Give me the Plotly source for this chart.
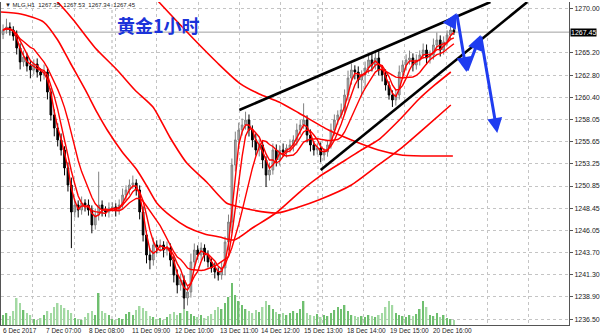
import plotly.graph_objects as go
import pandas as pd

# ---------------- data ----------------
closes = [
    1267.68, 1268.00, 1267.68, 1267.03, 1265.74, 1264.23, 1264.77, 1263.80, 1263.37, 1264.01,
    1263.15, 1262.83, 1263.15, 1260.99, 1258.51, 1257.11, 1255.82, 1254.74, 1252.80, 1250.96,
    1248.05, 1248.80, 1248.26, 1249.02, 1248.80, 1248.26, 1246.65, 1247.73, 1248.80, 1248.26,
    1248.05, 1248.48, 1248.59, 1248.26, 1248.80, 1249.88, 1250.42, 1250.96, 1251.18, 1250.42,
    1248.05, 1245.57, 1243.41, 1242.87, 1244.49, 1244.27, 1244.49, 1243.95, 1244.16, 1242.87,
    1241.25, 1240.17, 1240.71, 1238.77, 1239.42, 1242.66, 1243.95, 1243.41, 1244.16, 1243.41,
    1242.66, 1242.01, 1241.58, 1241.25, 1242.01, 1244.81, 1246.97, 1253.12, 1255.82, 1256.89,
    1257.43, 1257.97, 1256.89, 1255.82, 1254.74, 1255.28, 1253.66, 1252.04, 1252.58, 1254.74,
    1253.66, 1254.74, 1254.52, 1254.95, 1255.28, 1255.82, 1256.89, 1257.43, 1257.97, 1256.35,
    1255.28, 1254.74, 1254.95, 1254.20, 1254.52, 1255.28, 1256.89, 1257.97, 1258.51, 1259.05,
    1260.67, 1262.50, 1263.37, 1263.15, 1262.29, 1262.83, 1263.58, 1264.45, 1263.91, 1264.66,
    1263.37, 1262.83, 1261.75, 1260.67, 1260.13, 1260.67, 1263.15, 1263.91, 1264.45, 1264.66,
    1263.91, 1264.45, 1264.98, 1265.52, 1264.66, 1264.98, 1266.06, 1266.60, 1265.52, 1266.39,
    1267.14, 1267.68, 1267.45,
]
first_open = 1267.20

hi_wick = [
    0.6, 0.9, 0.5, 0.4, 0.6, 0.5, 0.7, 0.4, 0.6, 0.5,
    0.6, 0.4, 0.8, 0.5, 0.4, 0.6, 0.5, 0.7, 0.4, 0.6,
    0.8, 0.6, 0.5, 0.7, 0.4, 0.6, 0.5, 0.7, 3.6, 0.5,
    0.4, 0.6, 0.5, 0.4, 0.6, 0.7, 0.5, 0.6, 0.8, 0.4,
    0.5, 0.6, 0.4, 0.7, 0.8, 0.5, 0.6, 0.4, 0.7, 0.5,
    0.4, 0.6, 0.7, 0.5, 0.6, 0.9, 0.7, 0.5, 0.6, 0.4,
    0.5, 0.4, 0.6, 0.5, 0.7, 0.6, 0.8, 0.7, 0.9, 0.8,
    0.7, 0.9, 0.6, 0.5, 0.7, 0.6, 0.5, 0.4, 0.8, 0.7,
    0.6, 0.5, 0.7, 0.4, 0.6, 0.5, 0.7, 0.6, 1.8, 0.5,
    0.6, 0.4, 0.5, 0.6, 0.4, 0.5, 0.7, 0.6, 0.5, 0.7,
    0.6, 0.8, 0.7, 0.5, 0.6, 0.5, 0.7, 0.6, 0.8, 0.7,
    0.9, 0.5, 0.6, 0.4, 0.5, 0.6, 0.7, 0.5, 0.6, 0.8,
    0.5, 0.6, 0.5, 0.7, 0.6, 0.5, 0.7, 0.8, 0.5, 0.6,
    0.5, 0.6, 0.3,
]
lo_wick = [
    0.5, 0.4, 0.6, 0.5, 0.7, 0.8, 0.5, 0.6, 0.9, 0.5,
    0.6, 0.7, 0.5, 0.8, 0.6, 0.9, 0.7, 0.6, 0.8, 0.7,
    3.9, 0.6, 0.8, 0.5, 0.7, 0.6, 0.9, 0.5, 0.6, 0.7,
    0.5, 0.6, 0.4, 0.7, 0.5, 0.4, 0.6, 0.5, 0.4, 0.6,
    0.8, 0.7, 0.9, 1.0, 0.6, 0.7, 0.5, 0.8, 0.6, 0.7,
    0.8, 0.9, 0.6, 1.5, 0.8, 0.6, 0.7, 0.5, 0.6, 0.7,
    0.6, 0.5, 0.7, 0.6, 0.5, 0.8, 0.9, 1.2, 0.7, 0.8,
    0.6, 0.5, 0.7, 0.8, 0.6, 0.7, 0.9, 1.3, 0.6, 0.5,
    0.7, 0.6, 0.5, 0.6, 0.5, 0.7, 0.6, 0.5, 0.4, 0.8,
    0.7, 0.6, 0.5, 0.8, 0.6, 0.5, 0.4, 0.6, 0.5, 0.4,
    0.5, 0.6, 0.7, 0.8, 0.9, 1.8, 1.5, 0.6, 0.7, 0.5,
    0.6, 0.7, 0.6, 0.5, 0.75, 0.6, 0.5, 0.4, 0.6, 0.5,
    0.7, 0.5, 0.6, 0.4, 0.7, 0.6, 0.5, 0.4, 0.7, 0.5,
    0.4, 0.5, 0.3,
]
volumes = [
    2000, 2400, 1800, 2800, 5400, 4400, 3000, 2400, 2000, 1200,
    1000, 1400, 2000, 2800, 2400, 3600, 4400, 4000, 3400, 3000,
    2400, 1400, 1200, 1000, 1600, 2400, 2800, 2000, 6400, 2800,
    2400, 2000, 1200, 1000, 1400, 1200, 2200, 2600, 2000, 3000,
    3800, 3400, 2800, 1800, 1600, 1200, 1400, 1000, 1600, 2200,
    2600, 2000, 2400, 3200, 2800, 2200, 1800, 1600, 2000, 1400,
    1800, 2200, 3000, 3600, 3200, 4400, 5600, 8400, 6000, 4800,
    4000, 3200, 2800, 2400, 3000, 2600, 3600, 4800, 4000, 3200,
    2600, 2200, 2400, 2000, 2400, 2800, 2400, 3200, 4800, 2400,
    2000, 1800, 2200, 1600, 2000, 1800, 2400, 3000, 3600, 3200,
    4000, 2800, 2000, 1800, 1600, 1800, 1600, 2000, 1800, 1600,
    2000, 2400, 3600, 4800, 4000, 2400, 2000, 1800, 1600, 2000,
    1800, 2200, 3200, 4800, 3600, 2000, 1800, 2400, 1600, 2000,
    1400, 1200, 1000,
]

# slow moving averages (bar index, price)
ma60_x = [-0.6, 5.2, 11.9, 16.0, 19.7, 24.1, 27.6, 30.5, 34.9, 39.2, 42.1, 45.0, 49.4, 53.8,
          59.0, 63.4, 67.7, 73.0, 79.9, 87.5, 92.4, 100.3, 104.9, 109.9, 116.6, 121.5, 126.4, 131.1]
ma60_y = [1269.62, 1269.41, 1268.54, 1266.60, 1264.12, 1261.21, 1258.73, 1256.89, 1254.52, 1252.58,
          1250.85, 1249.02, 1247.51, 1246.43, 1245.68, 1245.35, 1245.03, 1246.32, 1247.94, 1250.42,
          1251.82, 1253.66, 1254.74, 1255.82, 1258.19, 1260.13, 1261.75, 1263.15]
ma120_x = [8.1, 11.0, 16.8, 20.6, 27.0, 33.4, 38.6, 43.9, 48.8, 53.8, 59.6, 65.4, 69.2, 73.0,
           80.2, 86.6, 92.4, 102.0, 109.9, 116.6, 124.4, 131.1]
ma120_y = [1274.15, 1272.54, 1270.38, 1268.76, 1265.74, 1263.37, 1261.21, 1259.37, 1256.14, 1253.33,
           1251.28, 1249.02, 1248.59, 1248.26, 1247.94, 1248.59, 1249.34, 1250.96, 1253.12, 1254.95,
           1257.43, 1259.59]
ma240_x = [34.3, 40.1, 45.9, 51.1, 56.1, 62.8, 69.2, 75.0, 80.8, 86.6, 95.3, 102.0, 109.9, 116.6, 124.4, 131.7]
ma240_y = [1275.23, 1272.86, 1270.59, 1268.54, 1266.60, 1264.12, 1261.96, 1260.78, 1259.92, 1258.73,
           1256.89, 1255.82, 1254.74, 1254.20, 1254.09, 1254.09]
fast_periods = [3, 5, 10]

# hand-drawn analysis objects (bar index, price)
trend_up_x = [69.2, 142.7]
trend_up_y = [1259.05, 1270.70]
trend_lo_x = [93.0, 153.5]
trend_lo_y = [1252.58, 1270.70]
arrow_x = [130.5, 132.8, 135.7, 139.8, 144.7]
arrow_y = [1268.00, 1269.51, 1263.15, 1267.14, 1256.57]

bid_price = 1267.45
ytick_vals = [1270.00, 1265.20, 1262.80, 1260.40, 1258.05, 1255.65, 1253.25, 1250.85,
              1248.45, 1246.05, 1243.70, 1241.30, 1238.90, 1236.50]
x_labels = ["6 Dec 2017", "7 Dec 07:00", "8 Dec 08:00", "11 Dec 09:00", "12 Dec 10:00",
            "13 Dec 11:00", "14 Dec 12:00", "15 Dec 13:00", "18 Dec 14:00", "19 Dec 15:00",
            "20 Dec 16:00"]
x_label_pos = [-0.6, 12.0, 24.7, 37.2, 49.7, 62.8, 75.0, 87.5, 100.0, 112.8, 125.3]
week_separators = [31.9, 92.2]
header = "▼ MLG,H1  1267.35  1267.53  1267.34  1267.45"
title = "黄金1小时"

# ---------------- build ----------------
n = min(len(closes), len(hi_wick), len(lo_wick), len(volumes))
closes = closes[:n]
idx = list(range(n))
opens = [first_open] + closes[:-1]
highs = [max(o, c) + w for o, c, w in zip(opens, closes, hi_wick[:n])]
lows = [min(o, c) - w for o, c, w in zip(opens, closes, lo_wick[:n])]
vol_colors = ['#6fbf6f' if c >= o else '#a3d9a3' for o, c in zip(opens, closes)]

fig = go.Figure()
fig.add_trace(go.Bar(x=idx, y=volumes[:n], yaxis='y2', width=0.45,
                     marker=dict(color=vol_colors, line=dict(width=0)),
                     hoverinfo='skip', showlegend=False))
fig.add_trace(go.Candlestick(
    x=idx, open=opens, high=highs, low=lows, close=closes,
    increasing=dict(line=dict(color='#808080', width=1), fillcolor='#b4b4b4'),
    decreasing=dict(line=dict(color='#000000', width=1), fillcolor='#000000'),
    whiskerwidth=0, showlegend=False))

s = pd.Series(closes)
for p in fast_periods:
    fig.add_trace(go.Scatter(x=idx, y=s.rolling(p, min_periods=1).mean(), mode='lines',
                             line=dict(color='#ff0000', width=1.4), showlegend=False))
for xs, ys in [(ma60_x, ma60_y), (ma120_x, ma120_y), (ma240_x, ma240_y)]:
    fig.add_trace(go.Scatter(x=xs, y=ys, mode='lines',
                             line=dict(color='#ff0000', width=1.6, shape='spline', smoothing=0.6),
                             showlegend=False))
for xs, ys in [(trend_up_x, trend_up_y), (trend_lo_x, trend_lo_y)]:
    fig.add_trace(go.Scatter(x=xs, y=ys, mode='lines', line=dict(color='#000000', width=2.6),
                             showlegend=False))

annotations = []
for i in range(len(arrow_x) - 1):
    annotations.append(dict(x=arrow_x[i + 1], y=arrow_y[i + 1], ax=arrow_x[i], ay=arrow_y[i],
                            xref='x', yref='y', axref='x', ayref='y', showarrow=True, text='',
                            arrowhead=2, arrowsize=1.0, arrowwidth=3, arrowcolor='#1f3cf0'))
for lab, pos in zip(x_labels, x_label_pos):
    annotations.append(dict(x=pos, y=0, xref='x', yref='paper', text=lab, showarrow=False,
                            xanchor='left', yanchor='top', yshift=0,
                            font=dict(family='Liberation Sans', size=6.5, color='#222222')))
annotations.append(dict(x=1, y=bid_price, xref='paper', yref='y', text=f"{bid_price:.2f}",
                        showarrow=False, xanchor='left', xshift=1, bgcolor='#000000', borderpad=0,
                        font=dict(family='Liberation Sans', size=7, color='#ffffff')))
annotations.append(dict(x=0.004, y=0.992, xref='paper', yref='paper', text=header, showarrow=False,
                        xanchor='left', yanchor='middle',
                        font=dict(family='Liberation Sans', size=6, color='#222222')))
annotations.append(dict(x=0.278, y=0.93, xref='paper', yref='paper', text=f"<b>{title}</b>",
                        showarrow=False, xanchor='center', yanchor='middle',
                        font=dict(family='Noto Sans CJK SC', size=18, color='#1a33d9')))

shapes = [dict(type='line', xref='paper', x0=0, x1=1, yref='y', y0=bid_price, y1=bid_price,
               line=dict(color='#a0a0a0', width=1), layer='below')]
for w in week_separators:
    shapes.append(dict(type='line', xref='x', x0=w, x1=w, yref='paper', y0=0, y1=1,
                       line=dict(color='#b0b0b0', width=1, dash='dot'), layer='below'))

fig.update_layout(
    width=600, height=334, margin=dict(l=0, r=28, t=2, b=9),
    plot_bgcolor='white', paper_bgcolor='white', showlegend=False,
    annotations=annotations, shapes=shapes,
    xaxis=dict(range=[-0.6, 165.7], showgrid=True, gridcolor='#c4c4c4', griddash='dot',
               tick0=8.7, dtick=12.1, showticklabels=False, ticks='', zeroline=False,
               showline=True, linecolor='#555555', rangeslider=dict(visible=False), fixedrange=True),
    yaxis=dict(range=[1235.86, 1270.70], side='right', tickvals=ytick_vals,
               ticktext=[f"{v:.2f}" for v in ytick_vals], showgrid=True, gridcolor='#c4c4c4',
               griddash='dot', ticks='outside', ticklen=3, tickcolor='#555555',
               tickfont=dict(family='Liberation Sans', size=7, color='#222222'),
               showline=True, linecolor='#555555', mirror=True, zeroline=False),
    yaxis2=dict(range=[0, 64600], overlaying='y', visible=False),
)

fig.write_html("out.html")
